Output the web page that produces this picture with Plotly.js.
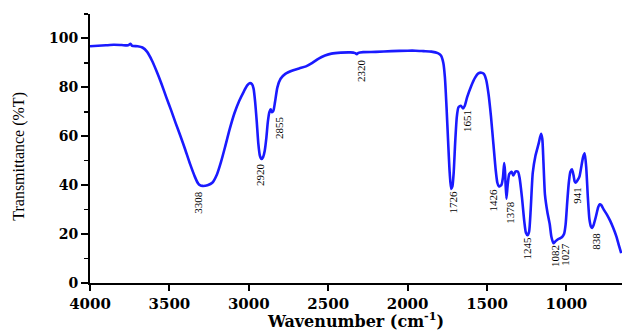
<!DOCTYPE html>
<html>
<head>
<meta charset="utf-8">
<script src="https://cdn.plot.ly/plotly-3.0.1.min.js"></script>
<style>html,body{margin:0;padding:0;background:#fff;}#chart{width:623px;height:331px;}</style>
</head>
<body>
<div id="chart"></div>
<script>
// FTIR spectrum
const wavenumber = [
4000,3950,3900,3850,3800,3760,3745,3735,3700,3670,3640,3610,3580,3550,3520,3490,3460,3430,3400,3370,
3340,3320,3308,3290,3260,3230,3200,3175,3150,3120,3090,3060,3030,3010,2995,2980,2970,2960,2950,2940,
2930,2920,2910,2900,2890,2880,2870,2862,2855,2845,2835,2820,2800,2770,2720,2680,2640,2600,2560,2520,
2480,2420,2360,2330,2320,2310,2280,2200,2100,2000,1950,1900,1850,1810,1790,1775,1765,1755,1745,1735,
1726,1718,1710,1700,1690,1680,1665,1651,1640,1625,1600,1575,1555,1535,1520,1505,1490,1475,1460,1445,
1435,1426,1410,1400,1392,1387,1378,1370,1360,1345,1335,1320,1305,1295,1280,1265,1255,1245,1235,1225,
1212,1195,1175,1160,1152,1145,1135,1120,1105,1095,1082,1070,1055,1040,1027,1015,1005,995,985,975,
965,955,948,941,930,918,905,895,885,875,865,855,845,838,830,815,800,790,780,765,
745,725,705,685,670,655
];
const transmittance = [
96.8,97.0,97.2,97.4,97.3,97.2,97.8,97.0,96.8,96.3,94.5,91,86.5,81.5,76,70.8,65.3,60,54.5,48.7,
43.5,40.8,40.0,39.7,40.0,41,44.5,49.5,55.5,63,69.5,74.5,78.5,80.8,81.7,81.3,79.5,74,66,57,
52,50.7,51.5,54,59,66,70,71,69.8,70.5,74,80,83.5,85.5,87,87.8,88.6,90,91.8,93,
93.8,94.2,94.3,94.0,93.6,94.1,94.4,94.5,94.8,95.0,95.0,94.8,94.6,94.0,93.0,90,84,72,58,45,
38.5,39.5,45,58,68,71.8,72.5,71.4,72.5,76,80.5,84,85.7,86,85.5,83,77,68,57,46,
41,39.5,40,43,49,46,34.5,40,44.5,45.5,44,45.6,45.5,43,35,25,20.5,19.5,21,30,
45,52,57,61,59,50,36,29,24,19,16.3,17,17.8,18.3,18.8,20,24,33,41,45.5,
46.5,44,41.5,41,42,43.5,48,51.5,53,47,35,26,23,22.5,23.5,27,31,32.2,31.8,30,
28,25.5,22.5,19,15.5,12.2
];

// Peak labels and where each label text sits (data units)
const peakLabels = ["3308","2920","2855","2320","1651","1726","1426","1378","1245","1082","1027","941","838"];
const labelWn    = [3320, 2929, 2810, 2289, 1626, 1716, 1464, 1355, 1250, 1072, 1009, 935, 813];
const labelT     = [33.2, 44.2, 63.8, 87.0, 66.2, 33.2, 34.0, 28.7, 14.4, 11.0, 12.0, 36.0, 16.9];

const xTickVals = [4000,3500,3000,2500,2000,1500,1000];
const yTickVals = [0,20,40,60,80,100];
const yTitle = 'Transmittance (%T)';
const xTitle = 'Wavenumber (cm<sup>-1</sup>)';

const annotations = peakLabels.map((t,i)=>({
  x: labelWn[i], y: labelT[i], xref:'x', yref:'y', text:t, showarrow:false,
  textangle:-90, font:{family:'Liberation Serif', size:11, color:'#000'}
}));
annotations.push({
  x:-0.135, y:0.47, xref:'paper', yref:'paper', text:yTitle, showarrow:false,
  textangle:-90, xanchor:'center', yanchor:'middle',
  font:{family:'Liberation Serif', size:16, color:'#000'}
});

const trace = {
  x: wavenumber, y: transmittance, type:'scatter', mode:'lines',
  line:{color:'#1a1aff', width:2.6, shape:'spline', smoothing:0.6}, hoverinfo:'skip'
};

const layout = {
  width:623, height:331,
  margin:{l:90, r:1, t:14, b:48},
  paper_bgcolor:'#fff', plot_bgcolor:'#fff',
  showlegend:false,
  xaxis:{
    range:[4000,650], tickvals:xTickVals, ticktext:xTickVals.map(String),
    showgrid:false, zeroline:false, showline:true, linecolor:'#000', linewidth:2,
    ticks:'outside', ticklen:6, tickwidth:2, tickcolor:'#000',
    tickfont:{family:'DejaVu Serif', size:15, weight:'bold', color:'#000'},
    title:{text:xTitle, standoff:8,
      font:{family:'DejaVu Serif', size:16, weight:'bold', color:'#000'}}
  },
  yaxis:{
    range:[0,110], tickvals:yTickVals, ticktext:yTickVals.map(String),
    showgrid:false, zeroline:false, showline:true, linecolor:'#000', linewidth:2,
    ticks:'outside', ticklen:7, tickwidth:2, tickcolor:'#000',
    minor:{dtick:10, tick0:0, ticks:'outside', ticklen:4, tickwidth:1.5, tickcolor:'#000', showgrid:false},
    tickfont:{family:'DejaVu Serif', size:14, weight:'bold', color:'#000'}
  },
  annotations: annotations
};

Plotly.newPlot('chart',[trace],layout,{staticPlot:true, displayModeBar:false});
</script>
</body>
</html>
